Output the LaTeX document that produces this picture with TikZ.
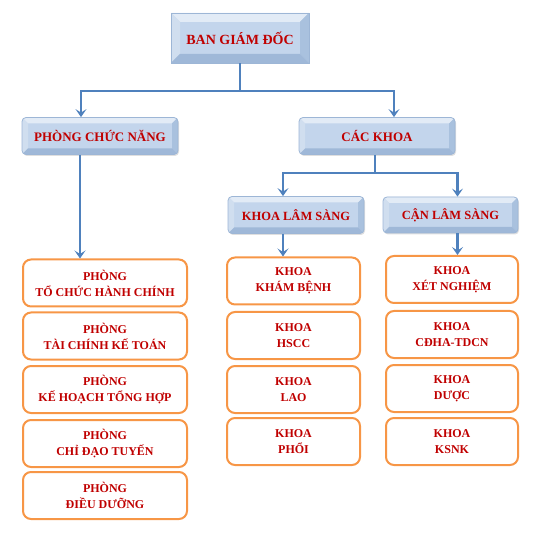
\documentclass[tikz,border=0pt]{standalone}
\usepackage{fontspec}
\setmainfont{Liberation Serif}
\usetikzlibrary{arrows.meta,shadows,calc}
\definecolor{conncol}{HTML}{4F81BD}
\definecolor{txtred}{HTML}{C00000}
\definecolor{orangeb}{HTML}{F79646}
\definecolor{bvmid}{HTML}{C3D5EC}
\definecolor{bvtop}{HTML}{E2EBF6}
\definecolor{bvleft}{HTML}{D0DEEF}
\definecolor{bvright}{HTML}{A9C1DE}
\definecolor{bvbot}{HTML}{9FB8D8}
\definecolor{bvedge}{HTML}{9DB6D6}
\tikzset{
  bevel depth/.initial=6pt,
  bevelbox/.style={
    draw=bvedge, line width=0.8pt, fill=bvmid, text=txtred,
    font=\bfseries\fontsize{13}{15}\selectfont,
    inner sep=0pt, align=center,
    drop shadow={opacity=0.25, shadow xshift=1pt, shadow yshift=-1.5pt},
    path picture={
      \def\bd{\pgfkeysvalueof{/tikz/bevel depth}}
      \coordinate (pnw) at (path picture bounding box.north west);
      \coordinate (pse) at (path picture bounding box.south east);
      \coordinate (pne) at (pnw -| pse);
      \coordinate (psw) at (pnw |- pse);
      \fill[bvtop, sharp corners] (pnw) -- (pne) -- ([xshift=-\bd,yshift=-\bd]pne) -- ([xshift=\bd,yshift=-\bd]pnw) -- cycle;
      \fill[bvleft, sharp corners] (pnw) -- ([xshift=\bd,yshift=-\bd]pnw) -- ([xshift=\bd,yshift=\bd]psw) -- (psw) -- cycle;
      \fill[bvright, sharp corners] (pne) -- ([xshift=-\bd,yshift=-\bd]pne) -- ([xshift=-\bd,yshift=\bd]pse) -- (pse) -- cycle;
      \fill[bvbot, sharp corners] (psw) -- ([xshift=\bd,yshift=\bd]psw) -- ([xshift=-\bd,yshift=\bd]pse) -- (pse) -- cycle;
    }
  },
  topbox/.style={bevelbox, rounded corners=0pt, bevel depth=9pt,
    font=\bfseries\fontsize{14}{16}\selectfont},
  midbox/.style={bevelbox, rounded corners=4pt, bevel depth=6pt},
  subbox/.style={bevelbox, rounded corners=4pt, bevel depth=6pt,
    font=\bfseries\fontsize{12.5}{15}\selectfont},
  unitbox/.style={draw=orangeb, line width=2pt, rounded corners=8pt, fill=white,
    text=txtred, align=center, inner sep=0pt,
    font=\bfseries\fontsize{12}{16}\selectfont},
  connline/.style={draw=conncol, line width=2.4pt},
  connarrow/.style={connline, -{Stealth[length=8pt,width=11pt,inset=3.5pt]}},
}
\begin{document}
\begin{tikzpicture}[x=1pt,y=-1pt]
\useasboundingbox (0,0) rectangle (552,540);
% top levels
\node[topbox, minimum width=138pt, minimum height=50pt] (bgd) at (240,38) {BAN GIÁM ĐỐC};
\node[midbox, minimum width=156pt, minimum height=37pt] (pcn) at (100,136) {PHÒNG CHỨC NĂNG};
\node[midbox, minimum width=156pt, minimum height=37pt] (ck) at (377,136) {CÁC KHOA};
\node[subbox, minimum width=136pt, minimum height=37pt] (kls) at (296,215) {KHOA LÂM SÀNG};
\node[subbox, minimum width=135pt, minimum height=36pt] (cls) at (450.5,215) {CẬN LÂM SÀNG};
% left column
\node[unitbox, minimum width=164pt, minimum height=47pt] (l1) at (105,283) {PHÒNG\\TỔ CHỨC HÀNH CHÍNH};
\node[unitbox, minimum width=164pt, minimum height=47pt] (l2) at (105,336) {PHÒNG\\TÀI CHÍNH KẾ TOÁN};
\node[unitbox, minimum width=164pt, minimum height=47pt] (l3) at (105,389.5) {PHÒNG\\KẾ HOẠCH TỔNG HỢP};
\node[unitbox, minimum width=164pt, minimum height=47pt] (l4) at (105,443.5) {PHÒNG\\CHỈ ĐẠO TUYẾN};
\node[unitbox, minimum width=164pt, minimum height=47pt] (l5) at (105,495.5) {PHÒNG\\ĐIỀU DƯỠNG};
% middle column
\node[unitbox, minimum width=133pt, minimum height=47pt] (m1) at (293.5,281) {KHOA\\KHÁM BỆNH};
\node[unitbox, minimum width=133pt, minimum height=47pt] (m2) at (293.5,335.5) {KHOA\\HSCC};
\node[unitbox, minimum width=133pt, minimum height=47pt] (m3) at (293.5,389.5) {KHOA\\LAO};
\node[unitbox, minimum width=133pt, minimum height=47pt] (m4) at (293.5,441.5) {KHOA\\PHỔI};
% right column
\node[unitbox, minimum width=132pt, minimum height=47pt] (r1) at (452,279.5) {KHOA\\XÉT NGHIỆM};
\node[unitbox, minimum width=132pt, minimum height=47pt] (r2) at (452,334.5) {KHOA\\CĐHA-TDCN};
\node[unitbox, minimum width=132pt, minimum height=47pt] (r3) at (452,388.5) {KHOA\\DƯỢC};
\node[unitbox, minimum width=132pt, minimum height=47pt] (r4) at (452,441.5) {KHOA\\KSNK};
% connectors
\coordinate (jtop) at (bgd.south |- 0,91);
\draw[connline] (bgd.south) -- (jtop);
\draw[connarrow] (jtop) -| ([xshift=-19pt]pcn.north);
\draw[connarrow] (jtop) -| ([xshift=17pt]ck.north);
\draw[connarrow] ([xshift=-20pt]pcn.south) -- ([xshift=-20pt]pcn.south |- l1.north);
\coordinate (jck) at ([xshift=-2pt]ck.south |- 0,173);
\draw[connline] ([xshift=-2pt]ck.south) -- (jck);
\draw[connarrow] (jck) -| ([xshift=-13pt]kls.north);
\draw[connarrow] (jck) -| ([xshift=7pt]cls.north);
\draw[connarrow] ([xshift=-13pt]kls.south) -- ([xshift=-13pt]kls.south |- m1.north);
\draw[connarrow] ([xshift=7pt]cls.south) -- ([xshift=7pt]cls.south |- r1.north);
\end{tikzpicture}
\end{document}
